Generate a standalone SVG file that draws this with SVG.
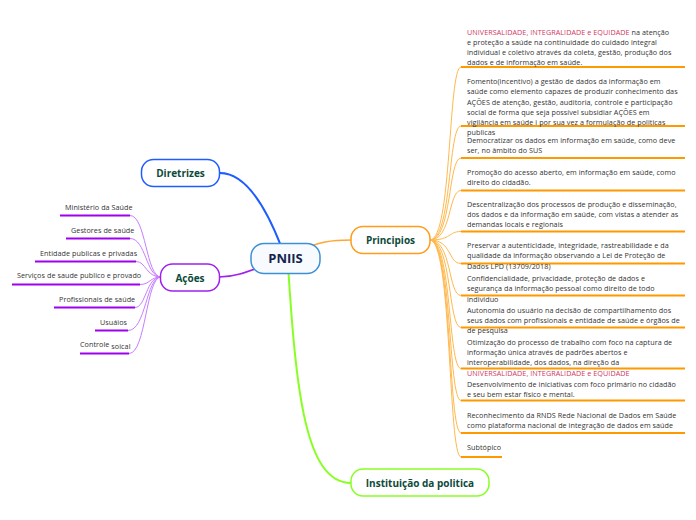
<svg xmlns="http://www.w3.org/2000/svg" width="696" height="520" viewBox="0 0 696 520">
<style>
.t{font-family:"Open Sans","Liberation Sans",sans-serif;font-size:7.2px;letter-spacing:0.06px;fill:#333;}
.r{fill:#d1365f;}
.nt{font-family:"Open Sans","Liberation Sans",sans-serif;font-size:10px;font-weight:bold;fill:#0d4a3a;text-anchor:middle;}
.ou{stroke:#ff9900;stroke-width:1.8;fill:none;}
.oc{stroke:#ffb84d;stroke-width:1;fill:none;}
.pu{stroke:#a000ee;stroke-width:1.8;fill:none;}
.pc{stroke:#c77dff;stroke-width:1;fill:none;}
</style>
<rect width="696" height="520" fill="#ffffff"/>
<g id="connectors">
<path d="M220,173 C245,173 265,205 281,246" stroke="#1f5cff" stroke-width="2" fill="none"/>
<path d="M285,258 C255,268 240,277 219,277" stroke="#a020f0" stroke-width="1.6" fill="none"/>
<path d="M300,250 C320,242 330,240 351,240" stroke="#ffa733" stroke-width="1.6" fill="none"/>
<path d="M288,265 C296,390 305,483 351,483" stroke="#88ff22" stroke-width="2" fill="none"/>
<g class="oc">
<path d="M430,240 C452,240 448,67 461,67"/>
<path d="M430,240 C452,240 448,126 461,126"/>
<path d="M430,240 C452,240 448,158 461,158"/>
<path d="M430,240 C452,240 448,190.5 461,190.5"/>
<path d="M430,240 C452,240 448,231.5 461,231.5"/>
<path d="M430,240 C452,240 448,263.5 461,263.5"/>
<path d="M430,240 C452,240 448,295.5 461,295.5"/>
<path d="M430,240 C452,240 448,327.5 461,327.5"/>
<path d="M430,240 C452,240 448,368.5 461,368.5"/>
<path d="M430,240 C452,240 448,400.5 461,400.5"/>
<path d="M430,240 C452,240 448,433 461,433"/>
<path d="M430,240 C452,240 448,457 461,457"/>
</g>
<g class="pc">
<path d="M161,277 C146,277 146,215.5 130,215.5"/>
<path d="M161,277 C146,277 146,238.5 130,238.5"/>
<path d="M161,277 C146,277 146,261.5 136,261.5"/>
<path d="M161,277 C150,277 150,284.5 140,284.5"/>
<path d="M161,277 C146,277 146,307.5 135,307.5"/>
<path d="M161,277 C146,277 146,330.5 128,330.5"/>
<path d="M161,277 C146,277 146,353.5 129,353.5"/>
</g>
</g>
<g id="PNIIS">
<rect x="251" y="243.5" width="69" height="30" rx="13" fill="#f7fbff" stroke="#3d8fd6" stroke-width="1.5"/>
<text x="285.5" y="263.3" text-anchor="middle" font-family="Open Sans, Liberation Sans, sans-serif" font-size="13" font-weight="bold" fill="#15254f">PNIIS</text>
</g>
<g id="Diretrizes">
<rect x="141.5" y="159.5" width="78" height="27" rx="12" fill="#fff" stroke="#1f5cff" stroke-width="1.5"/>
<text class="nt" x="180.5" y="177">Diretrizes</text>
</g>
<g id="Acoes">
<rect x="160.5" y="264" width="59" height="27" rx="12" fill="#fff" stroke="#a020f0" stroke-width="1.5"/>
<text class="nt" x="190" y="281.5">Ações</text>
</g>
<g id="Principios">
<rect x="351" y="226.5" width="79" height="27" rx="12" fill="#fff" stroke="#ff9c1a" stroke-width="1.5"/>
<text class="nt" x="390.5" y="244">Principios</text>
</g>
<g id="Instituicao">
<rect x="351" y="469" width="138" height="27" rx="12" fill="#fff" stroke="#88ff22" stroke-width="1.5"/>
<text class="nt" x="420" y="487">Instituição da politica</text>
</g>
<g id="acoes-items">
<path class="pu" d="M60,215.5 H130"/><text class="t" x="65" y="210">Ministério da Saúde</text>
<path class="pu" d="M66,238.5 H130"/><text class="t" x="71" y="233">Gestores de saúde</text>
<path class="pu" d="M35,261.5 H136"/><text class="t" x="40" y="256">Entidade publicas e privadas</text>
<path class="pu" d="M12,284.5 H140"/><text class="t" x="17" y="278">Serviços de saude publico e provado</text>
<path class="pu" d="M54,307.5 H135"/><text class="t" x="59" y="301.5">Profissionais de saúde</text>
<path class="pu" d="M95,330.5 H128"/><text class="t" x="100" y="324.5">Usuáios</text>
<path class="pu" d="M80,353.5 H129"/><text class="t" x="80" y="347">Controle<tspan dy="1.5"> soical</tspan></text>
</g>
<g id="principios-items">
<path class="ou" d="M461,67 H685"/>
<text class="t" x="467" y="34.5"><tspan class="r">UNIVERSALIDADE, INTEGRALIDADE e EQUIDADE</tspan> na atenção</text>
<text class="t" x="467" y="44.8">e proteção a saúde na continuidade do cuidado integral</text>
<text class="t" x="467" y="55">individual e coletivo através da coleta, gestão, produção dos</text>
<text class="t" x="467" y="64.5">dados e de informação em saúde.</text>

<path class="ou" d="M461,126 H685"/>
<text class="t" x="467" y="84">Fomento(incentivo) a gestão de dados da informação em</text>
<text class="t" x="467" y="94.3">saúde como elemento capazes de produzir conhecimento das</text>
<text class="t" x="467" y="104.6">AÇÕES de atenção, gestão, auditoria, controle e participação</text>
<text class="t" x="467" y="114.8">social de forma que seja possível subsidiar AÇÕES em</text>
<text class="t" x="467" y="125">vigilância em saúde i por sua vez a formulação de politicas</text>
<text class="t" x="467" y="135">publicas</text>

<path class="ou" d="M461,158 H685"/>
<text class="t" x="467" y="142.5">Democratizar os dados em informação em saúde, como deve</text>
<text class="t" x="467" y="152.5">ser, no âmbito do SUS</text>

<path class="ou" d="M461,190.5 H685"/>
<text class="t" x="467" y="175">Promoção do acesso aberto, em informação em saúde, como</text>
<text class="t" x="467" y="185">direito do cidadão.</text>

<path class="ou" d="M461,231.5 H685"/>
<text class="t" x="467" y="206.7">Descentralização dos processos de produção e disseminação,</text>
<text class="t" x="467" y="216.7">dos dados  e da informação em saúde, com vistas a atender as</text>
<text class="t" x="467" y="226.7">demandas locais e regionais</text>

<path class="ou" d="M461,263.5 H685"/>
<text class="t" x="467" y="248.3">Preservar a autenticidade, integridade, rastreabilidade e da</text>
<text class="t" x="467" y="258.3">qualidade da informação observando a Lei de Proteção de</text>
<text class="t" x="467" y="268.5">Dados LPD (13709/2018)</text>

<path class="ou" d="M461,295.5 H685"/>
<text class="t" x="467" y="280.7">Confidencialidade, privacidade, proteção de dados e</text>
<text class="t" x="467" y="291">segurança da informação pessoal como direito de todo</text>
<text class="t" x="467" y="301.5">individuo</text>

<path class="ou" d="M461,327.5 H685"/>
<text class="t" x="467" y="312.7">Autonomia do usuário na decisão de compartilhamento dos</text>
<text class="t" x="467" y="322.7">seus dados com profissionais e entidade de saúde e órgãos de</text>
<text class="t" x="467" y="333.3">de pesquisa</text>

<path class="ou" d="M461,368.5 H685"/>
<text class="t" x="467" y="345">Otimização do processo de trabalho com foco na captura de</text>
<text class="t" x="467" y="355">informação única através de padrões abertos e</text>
<text class="t" x="467" y="365">interoperabilidade, dos dados, na direção da</text>
<text class="t r" x="467" y="375.7">UNIVERSALIDADE, INTEGRALIDADE e EQUIDADE</text>

<path class="ou" d="M461,400.5 H685"/>
<text class="t" x="467" y="386.7">Desenvolvimento de iniciativas com foco primário no cidadão</text>
<text class="t" x="467" y="396.7">e seu bem estar físico e mental.</text>

<path class="ou" d="M461,433 H685"/>
<text class="t" x="467" y="418.3">Reconhecimento da RNDS Rede Nacional de Dados em Saúde</text>
<text class="t" x="467" y="428.3">como plataforma nacional de integração de dados em saúde</text>

<path class="ou" d="M461,457 H502"/>
<text class="t" x="467" y="450">Subtópico</text>
</g>
</svg>
